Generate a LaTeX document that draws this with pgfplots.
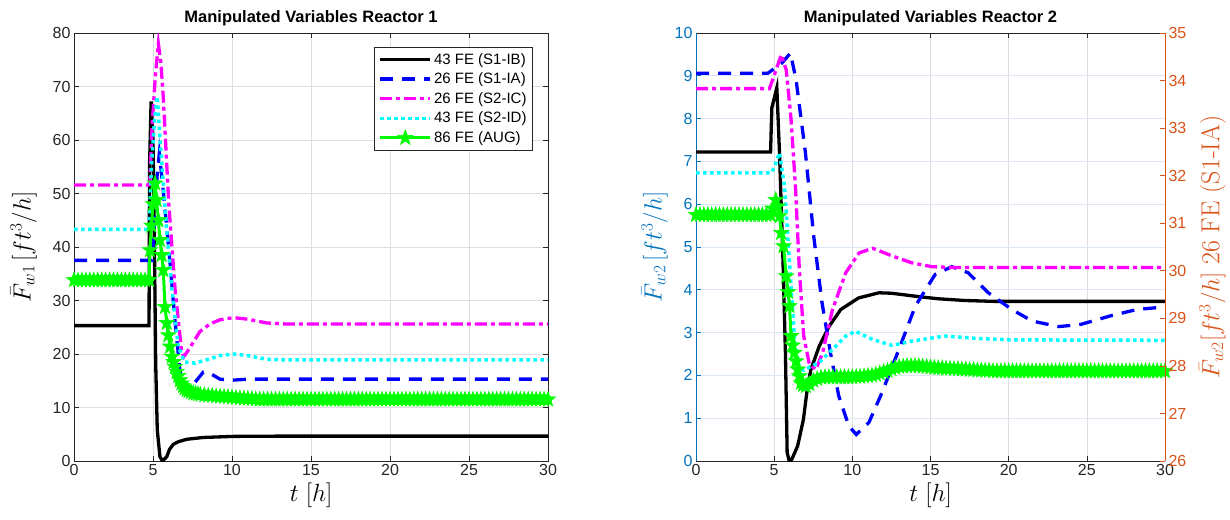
\documentclass[border=0pt]{standalone}
\usepackage{pgfplots}
\usepackage{pgfplotstable}
\pgfplotsset{compat=1.18}
\usepackage{fontspec}
\newfontfamily\arial{Liberation Sans}
\definecolor{mblue}{RGB}{0,114,189}
\definecolor{morange}{RGB}{217,83,25}
\definecolor{axgray}{RGB}{38,38,38}
\definecolor{gridgray}{RGB}{222,222,222}
\definecolor{gridblue}{RGB}{220,232,243}
\definecolor{cblue}{RGB}{0,0,255}
\definecolor{cmag}{RGB}{255,0,255}
\definecolor{ccyan}{RGB}{0,255,255}
\definecolor{cgreen}{RGB}{0,255,0}
\pgfdeclareplotmark{pent}{%
  \pgfpathmoveto{\pgfpointpolar{90}{\pgfplotmarksize}}%
  \pgfpathlineto{\pgfpointpolar{126}{0.4\pgfplotmarksize}}%
  \pgfpathlineto{\pgfpointpolar{162}{\pgfplotmarksize}}%
  \pgfpathlineto{\pgfpointpolar{198}{0.4\pgfplotmarksize}}%
  \pgfpathlineto{\pgfpointpolar{234}{\pgfplotmarksize}}%
  \pgfpathlineto{\pgfpointpolar{270}{0.4\pgfplotmarksize}}%
  \pgfpathlineto{\pgfpointpolar{306}{\pgfplotmarksize}}%
  \pgfpathlineto{\pgfpointpolar{342}{0.4\pgfplotmarksize}}%
  \pgfpathlineto{\pgfpointpolar{18}{\pgfplotmarksize}}%
  \pgfpathlineto{\pgfpointpolar{54}{0.4\pgfplotmarksize}}%
  \pgfpathclose\pgfusepathqfillstroke}
\pgfplotstableread[row sep=\\]{t v\\
0 33.8\\ 0.25 33.8\\ 0.5 33.8\\ 0.75 33.8\\ 1 33.8\\ 1.25 33.8\\ 1.5 33.8\\ 1.75 33.8\\ 2 33.8\\ 2.25 33.8\\
2.5 33.8\\ 2.75 33.8\\ 3 33.8\\ 3.25 33.8\\ 3.5 33.8\\ 3.75 33.8\\ 4 33.8\\ 4.25 33.8\\ 4.5 33.8\\ 4.75 33.8\\
4.81 39.4\\ 4.9 44\\ 5.0 48\\ 5.13 51.9\\ 5.23 48.8\\ 5.34 45\\ 5.44 41.3\\ 5.55 38.5\\ 5.65 35.7\\ 5.76 28.8\\
5.87 25.8\\ 5.97 23.5\\ 6.08 21.4\\ 6.2 19.5\\ 6.3 18.5\\ 6.39 17.6\\ 6.5 16.7\\ 6.6 15.9\\ 6.7 15.1\\ 6.8 14.5\\
6.9 14.0\\ 7.0 13.6\\ 7.13 13.3\\ 7.25 13.1\\ 7.4 12.9\\ 7.55 12.7\\ 7.7 12.6\\ 7.85 12.5\\ 8.0 12.4\\ 8.25 12.3\\
8.5 12.25\\ 8.75 12.2\\ 9 12.1\\ 9.25 12.05\\ 9.5 12.0\\ 9.75 11.95\\ 10 11.9\\ 10.25 11.8\\ 10.5 11.75\\ 10.75 11.7\\
11 11.65\\ 11.25 11.6\\ 11.5 11.55\\ 11.75 11.5\\ 12 11.5\\ 12.25 11.5\\ 12.5 11.5\\ 12.75 11.5\\ 13 11.5\\ 13.25 11.5\\
13.5 11.5\\ 13.75 11.5\\ 14 11.5\\ 14.25 11.5\\ 14.5 11.5\\ 14.75 11.5\\ 15 11.5\\ 15.25 11.5\\ 15.5 11.5\\ 15.75 11.5\\
16 11.5\\ 16.25 11.5\\ 16.5 11.5\\ 16.75 11.5\\ 17 11.5\\ 17.25 11.5\\ 17.5 11.5\\ 17.75 11.5\\ 18 11.5\\ 18.25 11.5\\
18.5 11.5\\ 18.75 11.5\\ 19 11.5\\ 19.25 11.5\\ 19.5 11.5\\ 19.75 11.5\\ 20 11.5\\ 20.25 11.5\\ 20.5 11.5\\ 20.75 11.5\\
21 11.5\\ 21.25 11.5\\ 21.5 11.5\\ 21.75 11.5\\ 22 11.5\\ 22.25 11.5\\ 22.5 11.5\\ 22.75 11.5\\ 23 11.5\\ 23.25 11.5\\
23.5 11.5\\ 23.75 11.5\\ 24 11.5\\ 24.25 11.5\\ 24.5 11.5\\ 24.75 11.5\\ 25 11.5\\ 25.25 11.5\\ 25.5 11.5\\ 25.75 11.5\\
26 11.5\\ 26.25 11.5\\ 26.5 11.5\\ 26.75 11.5\\ 27 11.5\\ 27.25 11.5\\ 27.5 11.5\\ 27.75 11.5\\ 28 11.5\\ 28.25 11.5\\
28.5 11.5\\ 28.75 11.5\\ 29 11.5\\ 29.25 11.5\\ 29.5 11.5\\ 29.75 11.5\\ 30 11.5\\
}\greenA
\pgfplotstableread[row sep=\\]{t v\\
0 5.75\\ 0.25 5.75\\ 0.5 5.75\\ 0.75 5.75\\ 1 5.75\\ 1.25 5.75\\ 1.5 5.75\\ 1.75 5.75\\ 2 5.75\\ 2.25 5.75\\
2.5 5.75\\ 2.75 5.75\\ 3 5.75\\ 3.25 5.75\\ 3.5 5.75\\ 3.75 5.75\\ 4 5.75\\ 4.25 5.75\\ 4.5 5.75\\ 4.75 5.75\\
4.9 5.9\\ 5.1 6.1\\ 5.22 5.95\\ 5.34 5.72\\ 5.45 5.33\\ 5.6 5.02\\ 5.77 4.32\\ 5.88 3.95\\ 5.98 3.62\\ 6.08 2.92\\
6.18 2.7\\ 6.29 2.53\\ 6.4 2.33\\ 6.5 2.14\\ 6.61 1.98\\ 6.72 1.83\\ 6.85 1.78\\ 7.03 1.75\\ 7.25 1.8\\ 7.5 1.88\\
7.75 1.92\\ 8 1.95\\ 8.25 1.96\\ 8.5 1.96\\ 8.75 1.96\\ 9 1.96\\ 9.25 1.96\\ 9.5 1.96\\ 9.75 1.96\\ 10 1.96\\
10.25 1.97\\ 10.5 1.97\\ 10.75 1.98\\ 11 1.99\\ 11.25 2.0\\ 11.5 2.02\\ 11.75 2.05\\ 12 2.08\\ 12.25 2.11\\ 12.5 2.15\\
12.75 2.18\\ 13 2.2\\ 13.25 2.21\\ 13.5 2.22\\ 13.75 2.22\\ 14 2.22\\ 14.25 2.22\\ 14.5 2.21\\ 14.75 2.2\\ 15 2.19\\
15.25 2.18\\ 15.5 2.17\\ 15.75 2.17\\ 16 2.16\\ 16.25 2.16\\ 16.5 2.15\\ 16.75 2.15\\ 17 2.14\\ 17.25 2.14\\ 17.5 2.13\\
17.75 2.13\\ 18 2.12\\ 18.25 2.12\\ 18.5 2.11\\ 18.75 2.11\\ 19 2.1\\ 19.25 2.1\\ 19.5 2.1\\ 19.75 2.1\\ 20 2.1\\
20.25 2.1\\ 20.5 2.1\\ 20.75 2.1\\ 21 2.1\\ 21.25 2.1\\ 21.5 2.1\\ 21.75 2.1\\ 22 2.1\\ 22.25 2.1\\ 22.5 2.1\\
22.75 2.1\\ 23 2.1\\ 23.25 2.1\\ 23.5 2.1\\ 23.75 2.1\\ 24 2.1\\ 24.25 2.1\\ 24.5 2.1\\ 24.75 2.1\\ 25 2.1\\
25.25 2.1\\ 25.5 2.1\\ 25.75 2.1\\ 26 2.1\\ 26.25 2.1\\ 26.5 2.1\\ 26.75 2.1\\ 27 2.1\\ 27.25 2.1\\ 27.5 2.1\\
27.75 2.1\\ 28 2.1\\ 28.25 2.1\\ 28.5 2.1\\ 28.75 2.1\\ 29 2.1\\ 29.25 2.1\\ 29.5 2.1\\ 29.75 2.1\\ 30 2.1\\
}\greenB
\pgfplotsset{
  base/.style={
    scale only axis, height=428pt,
    xmin=0, xmax=30, xtick={0,5,...,30},
    /pgf/number format/assume math mode=true,
    tick label style={font=\fontsize{16}{18}\selectfont\arial, text=axgray},
    title style={font=\fontsize{16.5}{19}\selectfont\arial\bfseries, yshift=-2pt},
    label style={font=\fontsize{24}{28}\selectfont},
    axis line style={axgray, line width=0.6pt},
    tick style={axgray, line width=0.6pt},
    major tick length=5pt, tick align=inside,
    grid=major, major grid style={gridgray, line width=0.6pt},
    legend image code/.code={\draw[mark repeat=2,mark phase=2,##1] plot coordinates {(0pt,0pt) (25pt,0pt) (50pt,0pt)};},
  },
  s1/.style={black, line width=3.3pt},
  s2/.style={cblue, line width=3.3pt, dash pattern=on 13pt off 9pt},
  s3/.style={cmag, line width=3.3pt, dash pattern=on 12pt off 4pt on 4pt off 4pt},
  s4/.style={ccyan, line width=3.5pt, dash pattern=on 3.5pt off 3.5pt},
  s5/.style={cgreen, line width=3pt, mark=pent, mark size=8pt, mark options={solid, fill=cgreen, line width=0.6pt}},
  s5b/.style={cgreen, line width=10pt, line join=round, line cap=round, forget plot},
}
\begin{document}
\begin{tikzpicture}
\useasboundingbox (0,0) rectangle (1230pt,519pt);
% ---------------- Reactor 1 ----------------
\begin{axis}[base, at={(74pt,58pt)}, anchor=south west, width=474pt,
  ymin=0, ymax=80, ytick={0,10,...,80},
  title={Manipulated Variables Reactor 1},
  xlabel={$t~[h]$}, ylabel={$\bar{F}_{w1}\,[ft^3/h]$}, ylabel shift=9pt,
  legend style={at={(0.968,0.967)}, anchor=north east, draw=axgray, line width=0.5pt,
    font=\fontsize{15}{17}\selectfont\arial, cells={anchor=west}, row sep=3.2pt,
    inner xsep=4pt, inner ysep=4pt},
]
\addplot[s1] coordinates {(0,25.3) (4.75,25.3) (4.78,55) (4.88,67.2) (5.0,60) (5.08,43.2) (5.17,18.3) (5.27,5.8) (5.44,0.8) (5.6,0) (5.87,0.8) (6.05,2.2) (6.28,3.1) (6.6,3.6) (7.13,4.06) (8.18,4.4) (10.1,4.6) (13,4.65) (30,4.65)};
\addlegendentry{43 FE (S1-IB)}
\addplot[s2] coordinates {(0,37.5) (4.95,37.5) (5.1,45) (5.25,53) (5.4,57.5) (5.6,52) (6.08,37) (6.4,26) (6.7,17) (6.92,13.3) (7.2,13.0) (7.6,14.5) (8.18,16.6) (8.6,16.4) (9.24,15.3) (10,15.1) (11,15.3) (30,15.3)};
\addlegendentry{26 FE (S1-IA)}
\addplot[s3] coordinates {(0,51.6) (4.75,51.6) (4.8,52) (4.95,63) (5.15,72) (5.34,78) (5.5,74.5) (5.65,68) (6.0,48) (6.4,32) (6.8,20.7) (6.95,19.5) (7.3,21) (7.97,24.2) (8.6,25.6) (9.24,26.4) (10.1,26.8) (11,26.5) (12.2,25.8) (13.5,25.6) (30,25.6)};
\addlegendentry{26 FE (S2-IC)}
\addplot[s4] coordinates {(0,43.3) (4.75,43.3) (4.9,55) (5.1,64) (5.27,68.1) (5.45,60) (5.86,43.2) (6.2,32) (6.6,21.4) (7.0,18.5) (7.66,18.3) (8.5,19.0) (9.24,19.7) (10.1,20.0) (11,19.7) (12.2,19.0) (13.5,18.9) (30,18.9)};
\addlegendentry{43 FE (S2-ID)}
\addplot[s5b, restrict x to domain=0:4.76] table[x=t, y=v] {\greenA};
\addplot[s5b, restrict x to domain=6.9:30] table[x=t, y=v] {\greenA};
\addplot[s5] table[x=t, y=v] {\greenA};
\addlegendentry{86 FE (AUG)}
\end{axis}
% ---------------- Reactor 2 ----------------
\begin{axis}[base, at={(696pt,58pt)}, anchor=south west, width=469pt,
  ymin=0, ymax=10, ytick={0,1,...,10},
  axis y line*=left,
  y axis line style={mblue}, ytick style={mblue},
  yticklabel style={text=mblue}, ylabel style={text=mblue},
  x grid style={gridgray, line width=0.6pt}, y grid style={gridblue, line width=0.6pt},
  title={Manipulated Variables Reactor 2},
  xlabel={$t~[h]$}, ylabel={$\bar{F}_{w2}\,[ft^3/h]$},
]
\addplot[s1] coordinates {(0,7.22) (4.77,7.22) (4.85,8.25) (5.17,8.72) (5.34,7.2) (5.55,4.86) (5.72,2.53) (5.83,0.2) (5.95,0.02) (6.08,0) (6.5,0.35) (6.87,0.97) (7.14,1.75) (7.35,2.14) (7.88,2.68) (8.52,3.15) (9.26,3.54) (10.4,3.81) (11.7,3.93) (12.5,3.92) (14.24,3.84) (15.5,3.79) (17.2,3.75) (19,3.73) (30,3.73)};
\addplot[s2] coordinates {(0,9.06) (4.6,9.06) (5.5,9.3) (6.04,9.53) (6.4,8.91) (7.0,7.2) (7.53,5.25) (8.06,3.7) (8.6,2.53) (9.13,1.52) (9.77,0.82) (10.25,0.62) (11.06,0.9) (11.9,1.6) (12.97,2.6) (14.03,3.62) (15.3,4.36) (16.36,4.54) (17.4,4.4) (18.7,3.93) (20.2,3.54) (21.5,3.27) (23.2,3.14) (24.6,3.19) (26.5,3.39) (28.2,3.54) (30,3.6)};
\addplot[s3] coordinates {(0,8.7) (4.7,8.7) (5.02,9.03) (5.45,9.49) (5.77,9.14) (6.08,7.98) (6.36,6.42) (6.61,4.47) (6.89,2.92) (7.25,2.26) (7.67,2.14) (8.1,2.53) (8.73,3.54) (9.58,4.4) (10.43,4.86) (11.3,4.97) (12.55,4.79) (13.8,4.63) (15.1,4.54) (16.5,4.52) (30,4.52)};
\addplot[s4] coordinates {(0,6.73) (4.8,6.73) (5.0,6.85) (5.34,7.2) (5.66,6.42) (5.87,5.25) (6.08,4.09) (6.29,2.92) (6.6,2.18) (6.9,2.12) (7.3,2.2) (7.88,2.3) (8.73,2.61) (9.58,2.92) (10.2,3.03) (11.3,2.84) (12.55,2.7) (13.8,2.8) (15.9,2.92) (18.07,2.86) (20.2,2.83) (30,2.82)};
\addplot[s5b, restrict x to domain=0:4.76] table[x=t, y=v] {\greenB};
\addplot[s5b, restrict x to domain=6.7:30] table[x=t, y=v] {\greenB};
\addplot[s5] table[x=t, y=v] {\greenB};
\end{axis}
\begin{axis}[scale only axis, at={(696pt,58pt)}, anchor=south west, width=469pt, height=428pt,
  xmin=0, xmax=30, ymin=26, ymax=35, ytick={26,27,...,35},
  axis y line*=right, axis x line=none,
  /pgf/number format/assume math mode=true,
  tick label style={font=\fontsize{16}{18}\selectfont\arial, text=morange},
  label style={font=\fontsize{24}{28}\selectfont, text=morange},
  y axis line style={morange, line width=0.6pt}, ytick style={morange, line width=0.6pt},
  major tick length=5pt, tick align=inside,
  ylabel={$\bar{F}_{w2}[ft^3/h]$ {\fontsize{26}{30}\selectfont 26 FE (S1-IA)}}, ylabel shift=6pt,
]
\addplot[draw=none] coordinates {(0,26) (30,35)};
\end{axis}
\end{tikzpicture}
\end{document}
